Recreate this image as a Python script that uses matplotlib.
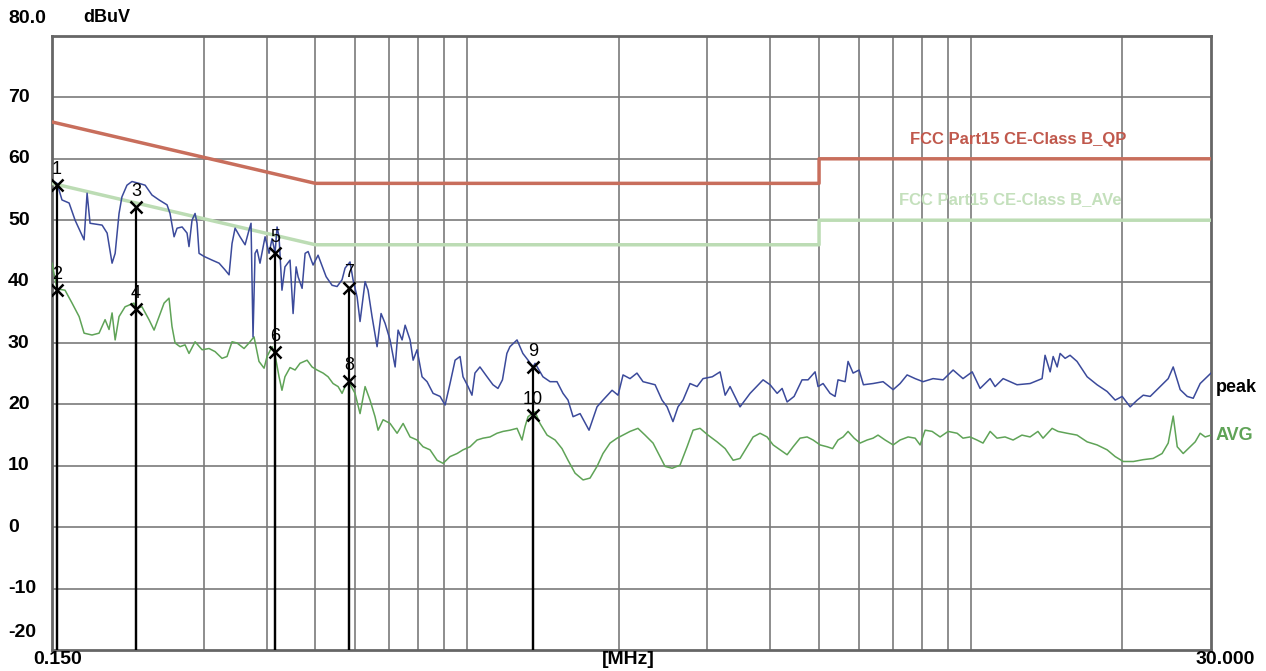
import matplotlib
matplotlib.use("Agg")
import matplotlib.pyplot as plt
import matplotlib.transforms as mtransforms

plt.rcParams['font.family'] = ['Liberation Sans', 'DejaVu Sans']

# ---- measured traces (MHz, dBuV) ----
peak_freq = [0.150, 0.1535, 0.1570, 0.1622, 0.1667, 0.1737, 0.1761, 0.1785, 0.1886, 0.1930,
             0.1974, 0.2002, 0.2038, 0.2065, 0.2113, 0.2162, 0.2233, 0.2296, 0.2369, 0.2447,
             0.2538, 0.2573, 0.2621, 0.2657, 0.2719, 0.2781, 0.2806, 0.2845, 0.2885, 0.2911,
             0.2938, 0.3006, 0.3118, 0.3220, 0.3309, 0.3370, 0.3416, 0.3464, 0.3543, 0.3626,
             0.3692, 0.3726, 0.3760, 0.3795, 0.3830, 0.3882, 0.3973, 0.4046, 0.4102, 0.4159,
             0.4197, 0.4235, 0.4292, 0.4351, 0.4453, 0.4516, 0.4579, 0.4620, 0.4706, 0.4771,
             0.4837, 0.4948, 0.5062, 0.5132, 0.5252, 0.5397, 0.5522, 0.5649, 0.5727, 0.5858,
             0.5940, 0.6051, 0.6133, 0.6276, 0.6362, 0.6479, 0.6630, 0.6752, 0.6877, 0.7035,
             0.7200, 0.7298, 0.7433, 0.7537, 0.7709, 0.7817, 0.7960, 0.8143, 0.8332, 0.8564,
             0.8842, 0.9048, 0.9254, 0.9471, 0.9688, 0.982, 1.005, 1.023, 1.037, 1.061,
             1.096, 1.126, 1.152, 1.176, 1.200, 1.217, 1.257, 1.291, 1.322, 1.352,
             1.365, 1.415, 1.462, 1.509, 1.551, 1.587, 1.624, 1.677, 1.747, 1.812,
             1.862, 1.941, 1.995, 2.041, 2.107, 2.175, 2.236, 2.363, 2.439, 2.496,
             2.564, 2.624, 2.685, 2.772, 2.863, 2.942, 3.069, 3.180, 3.255, 3.329,
             3.484, 3.648, 3.871, 3.997, 4.128, 4.223, 4.321, 4.461, 4.626, 4.755,
             4.910, 4.977, 5.093, 5.258, 5.380, 5.453, 5.633, 5.709, 5.842, 6.004,
             6.124, 6.400, 6.700, 7.016, 7.242, 7.478, 7.758, 8.043, 8.420, 8.816,
             9.228, 9.655, 10.07, 10.44, 10.93, 11.18, 11.60, 12.36, 13.12, 13.86,
             14.05, 14.38, 14.58, 14.85, 15.05, 15.40, 15.75, 16.26, 17.03, 17.82,
             18.66, 19.36, 19.99, 20.73, 21.41, 22.01, 22.72, 23.78, 24.67, 25.24,
             26.06, 26.91, 27.66, 28.55, 30.0]
peak_level = [56.5, 56.0, 53.3, 52.8, 50.0, 46.8, 54.4, 49.5, 49.2, 47.9,
              43.0, 44.6, 51.1, 53.8, 55.7, 56.3, 56.0, 55.7, 54.1, 53.3,
              52.5, 51.1, 47.3, 48.7, 48.9, 47.9, 45.7, 50.0, 51.1, 49.5,
              44.6, 44.1, 43.5, 43.0, 41.9, 41.1, 46.2, 48.7, 47.3, 46.0,
              48.4, 49.5, 31.0, 44.6, 45.2, 43.0, 47.3, 44.6, 47.0, 44.7,
              48.9, 47.3, 38.6, 42.4, 43.5, 34.8, 42.4, 40.8, 38.9, 44.6,
              44.9, 42.7, 44.3, 43.0, 40.8, 39.4, 39.2, 40.3, 42.2, 43.2,
              40.3, 37.5, 33.5, 40.0, 38.6, 34.3, 29.4, 34.8, 33.2, 30.5,
              26.1, 32.1, 30.5, 32.9, 30.5, 27.2, 28.9, 24.5, 23.7, 21.8,
              21.3, 19.9, 23.4, 27.2, 27.8, 24.5, 22.9, 21.5, 25.1, 26.1,
              24.5, 23.2, 22.6, 24.0, 28.3, 29.4, 30.5, 28.3, 27.2, 26.1,
              26.7, 24.5, 23.7, 23.7, 21.8, 20.7, 18.0, 18.5, 15.8, 19.6,
              20.7, 22.3, 21.5, 24.8, 24.2, 25.1, 23.7, 23.2, 20.7, 19.6,
              17.2, 19.6, 20.7, 23.4, 22.9, 24.2, 24.5, 25.3, 21.5, 22.9,
              19.6, 21.8, 24.0, 23.2, 21.8, 22.6, 20.4, 21.3, 24.0, 24.0,
              25.3, 22.9, 23.4, 21.8, 21.3, 24.0, 23.7, 27.0, 25.1, 25.6,
              23.2, 23.4, 23.7, 22.4, 23.4, 24.8, 24.2, 23.7, 24.2, 24.0,
              25.6, 24.2, 25.3, 22.6, 24.2, 22.9, 24.2, 23.2, 23.4, 24.2,
              28.0, 25.3, 27.8, 26.1, 28.3, 27.5, 28.0, 27.0, 24.5, 23.2,
              22.1, 20.7, 21.3, 19.6, 20.7, 21.5, 21.3, 22.9, 24.2, 26.1,
              22.4, 21.3, 21.0, 23.4, 25.1]

avg_freq = [0.150, 0.1535, 0.1592, 0.1644, 0.1698, 0.1737, 0.1801, 0.1860, 0.1886, 0.1912,
            0.1947, 0.1974, 0.2002, 0.2038, 0.2095, 0.2181, 0.2201, 0.2263, 0.2337, 0.2392,
            0.2447, 0.2504, 0.2561, 0.2596, 0.2633, 0.2693, 0.2756, 0.2806, 0.2885, 0.2979,
            0.3075, 0.3161, 0.3263, 0.3339, 0.3416, 0.3495, 0.3609, 0.3692, 0.3777, 0.3864,
            0.3955, 0.4009, 0.4102, 0.4159, 0.4235, 0.4292, 0.4351, 0.4453, 0.4557, 0.4662,
            0.4814, 0.4925, 0.5039, 0.5180, 0.5299, 0.5421, 0.5548, 0.5649, 0.5727, 0.5832,
            0.5994, 0.6133, 0.6276, 0.6419, 0.6568, 0.6660, 0.6815, 0.7035, 0.7265, 0.7468,
            0.7709, 0.7960, 0.818, 0.8446, 0.8723, 0.8966, 0.9254, 0.9558, 0.982, 1.014,
            1.047, 1.076, 1.111, 1.147, 1.179, 1.217, 1.257, 1.286, 1.304, 1.322,
            1.352, 1.365, 1.396, 1.442, 1.496, 1.544, 1.587, 1.639, 1.700, 1.755,
            1.812, 1.862, 1.923, 1.986, 2.041, 2.107, 2.185, 2.257, 2.341, 2.416,
            2.473, 2.554, 2.648, 2.735, 2.811, 2.902, 3.010, 3.137, 3.255, 3.376,
            3.484, 3.598, 3.699, 3.818, 3.943, 4.053, 4.184, 4.321, 4.441, 4.584,
            4.734, 4.866, 5.023, 5.188, 5.319, 5.453, 5.581, 5.709, 5.870, 6.031,
            6.228, 6.400, 6.547, 6.763, 7.016, 7.242, 7.513, 7.758, 7.935, 8.121,
            8.385, 8.695, 9.021, 9.400, 9.655, 9.973, 10.29, 10.58, 10.93, 11.28,
            11.70, 12.14, 12.64, 13.12, 13.60, 13.92, 14.51, 14.91, 15.54, 16.26,
            17.03, 17.82, 18.66, 19.36, 20.09, 21.04, 22.01, 23.03, 23.99, 24.67,
            25.24, 25.71, 26.42, 27.28, 27.91, 28.55, 29.21, 30.0]
avg_level = [43.0, 38.8, 38.6, 36.5, 34.3, 31.6, 31.3, 31.6, 32.7, 33.8,
             32.2, 34.9, 30.5, 34.3, 35.9, 36.5, 35.6, 35.9, 33.8, 32.1,
             34.3, 36.5, 37.3, 32.7, 30.0, 29.4, 29.7, 28.3, 30.2, 28.9,
             29.1, 28.6, 27.5, 27.8, 30.2, 30.0, 29.1, 30.0, 31.0, 27.0,
             25.9, 27.8, 29.4, 28.0, 24.5, 22.3, 24.5, 26.0, 25.6, 26.7,
             27.2, 26.1, 25.6, 25.1, 24.5, 23.4, 22.9, 21.8, 22.9, 23.6,
             21.8, 18.5, 22.9, 20.7, 18.0, 15.8, 17.5, 16.9, 15.3, 16.9,
             14.7, 14.2, 13.1, 12.6, 10.9, 10.4, 11.5, 12.0, 12.6, 13.1,
             14.2, 14.5, 14.7, 15.3, 15.6, 15.8, 16.1, 14.2, 16.4, 18.0,
             18.6, 18.8, 16.9, 15.0, 14.2, 12.8, 10.9, 8.8, 7.7, 8.0,
             9.9, 12.0, 13.7, 14.5, 15.0, 15.6, 16.1, 15.0, 13.7, 11.5,
             9.9, 9.6, 10.1, 13.1, 15.8, 16.1, 15.0, 13.9, 12.8, 10.9,
             11.2, 13.1, 14.7, 15.3, 14.7, 13.4, 12.6, 11.8, 13.1, 14.5,
             14.7, 14.2, 13.4, 13.1, 12.8, 14.2, 14.7, 15.6, 14.5, 13.7,
             14.2, 14.5, 15.0, 14.2, 13.4, 14.2, 14.7, 14.5, 13.4, 15.8,
             15.6, 14.7, 15.6, 15.3, 14.5, 14.7, 14.2, 13.7, 15.6, 14.5,
             14.7, 14.2, 15.0, 14.7, 15.6, 14.5, 16.1, 15.6, 15.3, 15.0,
             13.9, 13.4, 12.6, 11.5, 10.7, 10.7, 11.0, 11.2, 12.0, 13.7,
             18.1, 13.1, 12.0, 13.1, 13.9, 15.3, 14.7, 15.0]

# ---- FCC Part15 class B limits ----
qp_limit_freq = [0.15, 0.5, 5.0, 5.0, 30.0]
qp_limit_level = [66, 56, 56, 60, 60]
av_limit_freq = [0.15, 0.5, 5.0, 5.0, 30.0]
av_limit_level = [56, 46, 46, 50, 50]

# ---- markers ----
marker_freq = [0.1535, 0.1535, 0.2201, 0.2201, 0.4159, 0.4159, 0.5832, 0.5832, 1.352, 1.352]
marker_level = [55.8, 38.6, 52.2, 35.6, 44.7, 28.5, 39.0, 23.8, 26.1, 18.3]
marker_names = ['1', '2', '3', '4', '5', '6', '7', '8', '9', '10']

grid_freq = [0.3, 0.4, 0.5, 0.6, 0.7, 0.8, 0.9, 1, 2, 3, 4, 5, 6, 7, 8, 9, 10, 20]
y_grid = [-10, 0, 10, 20, 30, 40, 50, 60, 70]
y_labels = ['-10', '0', '10', '20', '30', '40', '50', '60', '70']

fig = plt.figure(figsize=(12.66, 6.71), dpi=100)
ax = fig.add_axes([52 / 1266, 21 / 671, 1159 / 1266, 614 / 671])
ax.set_xscale('log')
ax.set_xlim(0.15, 30)
ax.set_ylim(-20, 80)
ax.set_xticks(grid_freq)
ax.set_xticks([], minor=True)
ax.set_yticks(y_grid)
ax.tick_params(length=0, labelleft=False, labelbottom=False)
ax.grid(True, color='#7a7a7a', lw=1.2)
for s in ax.spines.values():
    s.set_color('#666666')
    s.set_linewidth(2)

# limits
ax.plot(qp_limit_freq, qp_limit_level, color='#c86e5c', lw=2.5, zorder=3)
ax.plot(av_limit_freq, av_limit_level, color='#bcdcb4', lw=2.5, zorder=3)

# traces
ax.plot(avg_freq, avg_level, color='#5fa357', lw=1.1, zorder=4)
ax.plot(peak_freq, peak_level, color='#3b4a9b', lw=1.1, zorder=5)

# markers
ax.vlines(marker_freq, -20, marker_level, color='black', lw=1.6, zorder=6)
ax.plot(marker_freq, marker_level, 'x', color='black', ms=9, mew=1.8, zorder=7)
for f, v, n in zip(marker_freq, marker_level, marker_names):
    ax.annotate(n, (f, v), xytext=(0, 11), textcoords='offset points',
                ha='center', va='center', fontsize=13, color='black', zorder=8)

# limit names
ax.text(12.4, 63.1, 'FCC Part15 CE-Class B_QP', color='#c0584c', fontsize=12,
        fontweight='bold', ha='center', va='center')
ax.text(12.0, 53.3, 'FCC Part15 CE-Class B_AVe', color='#c4e0bc', fontsize=12,
        fontweight='bold', ha='center', va='center')

# trace names at right
ax.text(1.004, 22.8, 'peak', transform=ax.get_yaxis_transform(), fontsize=13,
        fontweight='bold', color='black', ha='left', va='center', clip_on=False)
ax.text(1.004, 15.0, 'AVG', transform=ax.get_yaxis_transform(), fontsize=13,
        fontweight='bold', color='#5fa357', ha='left', va='center', clip_on=False)

# y labels, left aligned in the margin
trans = mtransforms.blended_transform_factory(fig.transFigure, ax.transData)
for v, lab in zip(y_grid, y_labels):
    fig.text(8 / 1266, v, lab, transform=trans, fontsize=14, fontweight='bold',
             ha='left', va='center')
fig.text(8 / 1266, 82.9, '80.0', transform=trans, fontsize=14, fontweight='bold',
         ha='left', va='center')
fig.text(8 / 1266, -17.1, '-20', transform=trans, fontsize=14, fontweight='bold',
         ha='left', va='center')
fig.text(83 / 1266, 1 - 18 / 671, 'dBuV', fontsize=13, fontweight='bold',
         ha='left', va='center')

# x labels
fig.text(58 / 1266, 11 / 671, '0.150', fontsize=14, fontweight='bold', ha='center', va='center')
fig.text(628 / 1266, 11 / 671, '[MHz]', fontsize=14, fontweight='bold', ha='center', va='center')
fig.text(1225 / 1266, 11 / 671, '30.000', fontsize=14, fontweight='bold', ha='center', va='center')

fig.savefig('out.png', dpi=100)
